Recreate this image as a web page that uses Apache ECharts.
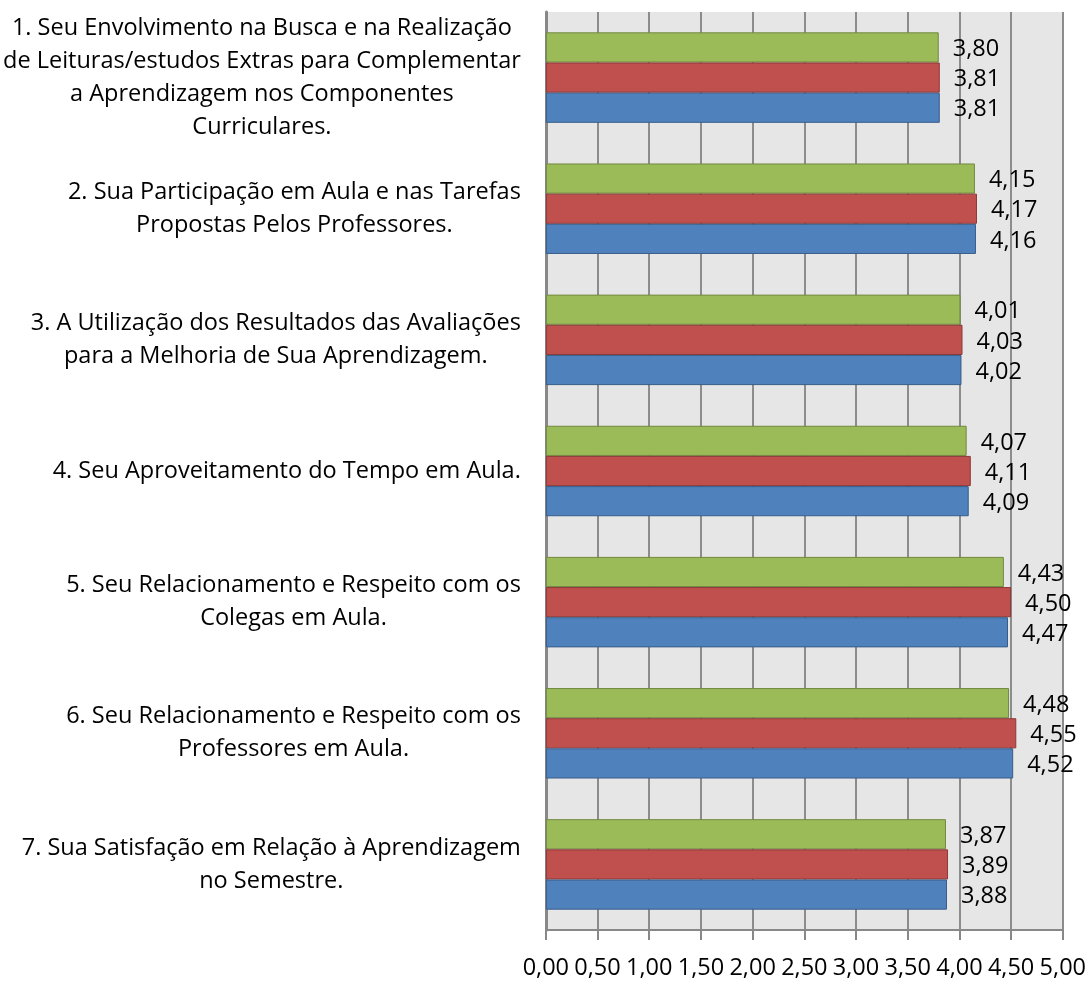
<!DOCTYPE html>
<html>
<head>
<meta charset="utf-8">
<script src="https://cdn.jsdelivr.net/npm/echarts@6/dist/echarts.min.js"></script>
<style>
  html, body { margin: 0; background: #fff; }
  #main { width: 1089px; height: 981px; }
</style>
</head>
<body>
<div id="main"></div>
<script>
var categories = [
  '1. Seu Envolvimento na Busca e na Realização\nde Leituras/estudos Extras para Complementar\na Aprendizagem nos Componentes\nCurriculares.',
  '2. Sua Participação em Aula e nas Tarefas\nPropostas Pelos Professores.',
  '3. A Utilização dos Resultados das Avaliações\npara a Melhoria de Sua Aprendizagem.',
  '4. Seu Aproveitamento do Tempo em Aula.',
  '5. Seu Relacionamento e Respeito com os\nColegas em Aula.',
  '6. Seu Relacionamento e Respeito com os\nProfessores em Aula.',
  '7. Sua Satisfação em Relação à Aprendizagem\nno Semestre.'
]
var greenValues = [3.80, 4.15, 4.01, 4.07, 4.43, 4.48, 3.87]
var redValues = [3.81, 4.17, 4.03, 4.11, 4.50, 4.55, 3.89]
var blueValues = [3.81, 4.16, 4.02, 4.09, 4.47, 4.52, 3.88]

var FONT = 'Open Sans'

function fmt (v) {
  return Number(v).toFixed(2).replace('.', ',')
}

function makeSeries (name, data, color, border) {
  return {
    name: name,
    type: 'bar',
    data: data,
    barGap: '0%',
    barCategoryGap: '31%',
    itemStyle: { color: color, borderColor: border, borderWidth: 1 },
    label: {
      show: true,
      position: 'right',
      distance: 14,
      offset: [0, 2],
      color: '#000',
      fontFamily: FONT,
      fontSize: 23.5,
      formatter: function (p) { return fmt(p.value) }
    }
  }
}

var myChart = echarts.init(document.getElementById('main'))

var option = {
  animation: false,
  grid: {
    left: 545, right: 26, top: 12, bottom: 51,
    show: true, backgroundColor: '#E6E6E6', borderWidth: 0
  },
  xAxis: {
    type: 'value',
    min: 0, max: 5, interval: 0.5,
    axisLine: { show: true, lineStyle: { color: '#888', width: 2 } },
    axisTick: { show: true, length: 10, lineStyle: { color: '#888', width: 2 } },
    splitLine: { show: true, lineStyle: { color: '#8C8C8C', width: 2 } },
    axisLabel: {
      color: '#000', fontFamily: FONT, fontSize: 23.5, margin: 26,
      formatter: fmt
    }
  },
  yAxis: {
    type: 'category',
    inverse: true,
    data: categories,
    axisLine: { show: true, lineStyle: { color: '#888', width: 3 } },
    axisTick: { show: false },
    splitLine: { show: false },
    axisLabel: {
      margin: 25,
      align: 'right',
      formatter: function (v) {
        return v.split('\n').map(function (s) { return '{c|' + s + '}' }).join('\n')
      },
      rich: {
        c: { align: 'center', color: '#000', fontFamily: FONT, fontSize: 23.5, lineHeight: 33 }
      }
    }
  },
  series: [
    makeSeries('Série 3', greenValues, '#9BBB59', '#71893F'),
    makeSeries('Série 2', redValues, '#C0504D', '#8C3836'),
    makeSeries('Série 1', blueValues, '#4F81BD', '#385D8A')
  ]
}

myChart.setOption(option)
</script>
</body>
</html>
